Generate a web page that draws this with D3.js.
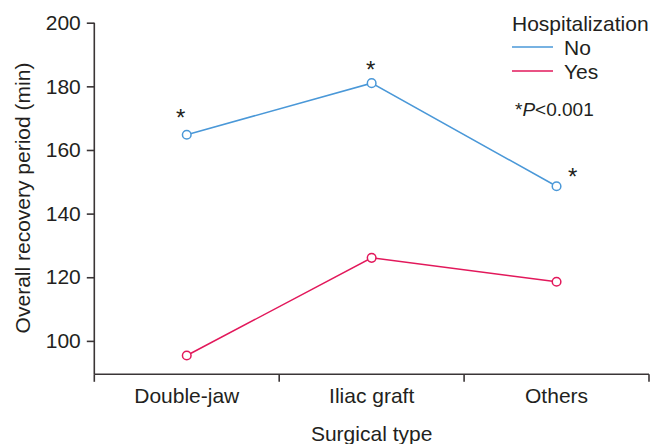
<!DOCTYPE html>
<html lang="en">
  <head>
    <meta charset="UTF-8" />
    <title>Overall recovery period</title>
    <script src="https://d3js.org/d3.v7.min.js"></script>
    <style>
      body { margin: 0; background: #fff; }
      text { font-family: "Liberation Sans", Arial, sans-serif; fill: #231f20; }
    </style>
  </head>
  <body>
    <div class="chart"></div>
  </body>

  <script>
    var categories = ["Double-jaw", "Iliac graft", "Others"];
    var seriesNames = ["No", "Yes"];
    var noValues = [164.8, 181.0, 148.6];
    var yesValues = [95.4, 126.1, 118.6];
    var yTicks = [100, 120, 140, 160, 180, 200];
    var starred = [true, true, true];

    var width = 651, height = 444;
    var margin = { top: 22.7, right: 2, bottom: 70, left: 94.3 };
    var fs = "21px";

    var svg = d3.select(".chart").append("svg")
      .attr("width", width)
      .attr("height", height);

    var x = d3.scaleBand().domain(categories).range([margin.left, 649]);
    var y = d3.scaleLinear().domain([89.5, 200]).range([374.3, margin.top]);

    // axes
    var yAxis = svg.append("g")
      .attr("transform", "translate(" + margin.left + ",0)")
      .call(d3.axisLeft(y).tickValues(yTicks).tickSize(7.5).tickPadding(6));
    var xAxis = svg.append("g")
      .attr("transform", "translate(0," + y.range()[0] + ")")
      .call(d3.axisBottom(x).tickSize(0).tickPadding(14));

    // band edge ticks on x
    var edges = categories.map(function (c) { return x(c); }).concat([x.range()[1]]);
    xAxis.selectAll(".edge").data(edges).enter().append("line")
      .attr("x1", function (d) { return d; })
      .attr("x2", function (d) { return d; })
      .attr("y1", 0).attr("y2", 7.5);

    svg.selectAll(".domain, .tick line, .edge, g line")
      .attr("stroke", "#3a3536").attr("stroke-width", 1.6);
    yAxis.select(".domain").attr("d", "M-0," + y.range()[1] + "V" + y.range()[0]);
    xAxis.select(".domain").attr("d", "M" + x.range()[0] + ",0H" + x.range()[1]);
    svg.selectAll(".tick text")
      .style("font-size", fs)
      .style("font-family", "'Liberation Sans', Arial, sans-serif")
      .attr("fill", "#231f20");

    // axis titles
    svg.append("text")
      .attr("x", (x.range()[0] + x.range()[1]) / 2)
      .attr("y", 441)
      .attr("text-anchor", "middle")
      .style("font-size", fs)
      .text("Surgical type");
    svg.append("text")
      .attr("transform", "translate(30," + 198 + ") rotate(-90)")
      .attr("text-anchor", "middle")
      .style("font-size", fs)
      .text("Overall recovery period (min)");

    // series
    var colors = { No: "#4a98d8", Yes: "#e2185b" };
    var series = [
      { name: "No", values: noValues },
      { name: "Yes", values: yesValues }
    ];
    var cx = function (d, i) { return x(categories[i]) + x.bandwidth() / 2; };

    var line = d3.line()
      .x(function (d, i) { return cx(d, i); })
      .y(function (d) { return y(d); });

    series.forEach(function (s) {
      svg.append("path")
        .datum(s.values)
        .attr("fill", "none")
        .attr("stroke", colors[s.name])
        .attr("stroke-width", 1.5)
        .attr("d", line);
      svg.selectAll(".pt-" + s.name).data(s.values).enter().append("circle")
        .attr("cx", cx)
        .attr("cy", function (d) { return y(d); })
        .attr("r", 4.3)
        .attr("fill", "#fff")
        .attr("stroke", colors[s.name])
        .attr("stroke-width", 1.5);
    });

    // significance stars
    var starOffset = [[-6, -9], [-1, -5], [16, -1]];
    svg.selectAll(".star").data(noValues).enter().append("text")
      .attr("x", function (d, i) { return cx(d, i) + starOffset[i][0]; })
      .attr("y", function (d, i) { return y(d) + starOffset[i][1]; })
      .attr("text-anchor", "middle")
      .style("font-size", "24px")
      .text(function (d, i) { return starred[i] ? "*" : ""; });

    // legend
    var legend = svg.append("g").attr("transform", "translate(512,0)");
    legend.append("text").attr("x", 0).attr("y", 31)
      .style("font-size", fs).text("Hospitalization");
    seriesNames.forEach(function (n, i) {
      var ly = 47 + i * 24;
      legend.append("line")
        .attr("x1", 0).attr("x2", 41).attr("y1", ly).attr("y2", ly)
        .attr("stroke", colors[n]).attr("stroke-width", 1.5);
      legend.append("text").attr("x", 52).attr("y", ly + 7.5)
        .style("font-size", fs).text(n);
    });
    var pt = legend.append("text").attr("x", 3).attr("y", 116).style("font-size", "19px");
    pt.append("tspan").text("*");
    pt.append("tspan").style("font-style", "italic").text("P");
    pt.append("tspan").text("<0.001");
  </script>
</html>
